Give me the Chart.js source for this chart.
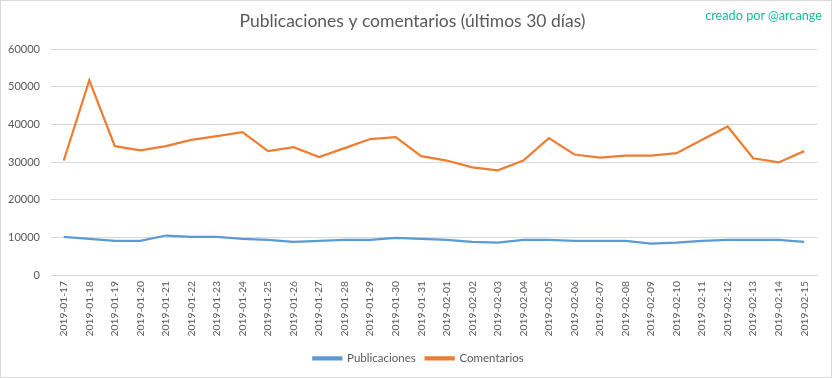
<!DOCTYPE html>
<html>
<head>
<meta charset="utf-8">
<script src="https://cdn.jsdelivr.net/npm/chart.js@4/dist/chart.umd.min.js"></script>
<style>
  html, body { margin: 0; padding: 0; background: #fff; }
  #wrap {
    position: relative;
    width: 830px;
    height: 376px;
    border: 1px solid #d9d9d9;
  }
  #credit {
    position: absolute;
    right: 9px;
    top: 6px;
    font-family: Lato, sans-serif;
    font-size: 12.7px;
    color: #1abc9c;
  }
</style>
</head>
<body>
<div id="wrap">
  <canvas id="chart" width="830" height="376"></canvas>
  <div id="credit">creado por @arcange</div>
</div>
<script>
// Data
const fechas = [
  '2019-01-17', '2019-01-18', '2019-01-19', '2019-01-20', '2019-01-21',
  '2019-01-22', '2019-01-23', '2019-01-24', '2019-01-25', '2019-01-26',
  '2019-01-27', '2019-01-28', '2019-01-29', '2019-01-30', '2019-01-31',
  '2019-02-01', '2019-02-02', '2019-02-03', '2019-02-04', '2019-02-05',
  '2019-02-06', '2019-02-07', '2019-02-08', '2019-02-09', '2019-02-10',
  '2019-02-11', '2019-02-12', '2019-02-13', '2019-02-14', '2019-02-15'
];

const publicaciones = [
  10130, 9600, 9070, 9070, 10500, 10130, 10130, 9600, 9330, 8800,
  9070, 9330, 9330, 9870, 9600, 9330, 8800, 8620, 9330, 9330,
  9070, 9070, 9070, 8350, 8620, 9070, 9330, 9330, 9330, 8800
];

const comentarios = [
  30400, 51700, 34200, 33100, 34200, 35900, 36900, 37950, 32900, 33950,
  31300, 33700, 36100, 36600, 31550, 30400, 28600, 27800, 30400, 36350,
  32000, 31200, 31700, 31700, 32350, 35900, 39450, 31000, 29900, 32900
];

const textColor = '#595959';
const gridColor = '#d9d9d9';

// nudge the legend a bit to the right, like the original
const legendShift = {
  id: 'legendShift',
  afterLayout(chart) {
    if (chart.legend) {
      chart.legend.left += 6;
      chart.legend.right += 6;
    }
  }
};

const ctx = document.getElementById('chart');
new Chart(ctx, {
  type: 'line',
  data: {
    labels: fechas,
    datasets: [
      {
        label: 'Publicaciones',
        data: publicaciones,
        borderColor: '#5b9bd5',
        backgroundColor: '#5b9bd5',
        borderWidth: 2.25,
        pointRadius: 0,
        tension: 0
      },
      {
        label: 'Comentarios',
        data: comentarios,
        borderColor: '#ed7d31',
        backgroundColor: '#ed7d31',
        borderWidth: 2.25,
        pointRadius: 0,
        tension: 0
      }
    ]
  },
  options: {
    responsive: false,
    animation: false,
    layout: {
      padding: { top: 10, left: 7, right: 14, bottom: 3 }
    },
    plugins: {
      title: {
        display: true,
        text: 'Publicaciones y comentarios (últimos 30 días)',
        color: textColor,
        font: { family: 'Lato', size: 17.5, weight: 'normal' },
        padding: { top: 0, bottom: 17 }
      },
      legend: {
        position: 'bottom',
        labels: {
          color: textColor,
          font: { family: 'Lato', size: 11.5 },
          boxWidth: 28,
          boxHeight: 2,
          padding: 10
        }
      },
      tooltip: { enabled: false }
    },
    scales: {
      x: {
        offset: true,
        grid: { display: false, drawTicks: false },
        border: { color: gridColor },
        ticks: {
          color: textColor,
          font: { family: 'Lato', size: 10.3 },
          maxRotation: 90,
          minRotation: 90,
          autoSkip: false,
          padding: 6
        }
      },
      y: {
        min: 0,
        max: 60000,
        afterFit: (scale) => { scale.width = 43; },
        grid: { color: gridColor, drawTicks: false },
        border: { display: false },
        ticks: {
          stepSize: 10000,
          color: textColor,
          font: { family: 'Lato', size: 11 },
          padding: 11,
          callback: (value) => String(value)
        }
      }
    }
  },
  plugins: [legendShift]
});
</script>
</body>
</html>
